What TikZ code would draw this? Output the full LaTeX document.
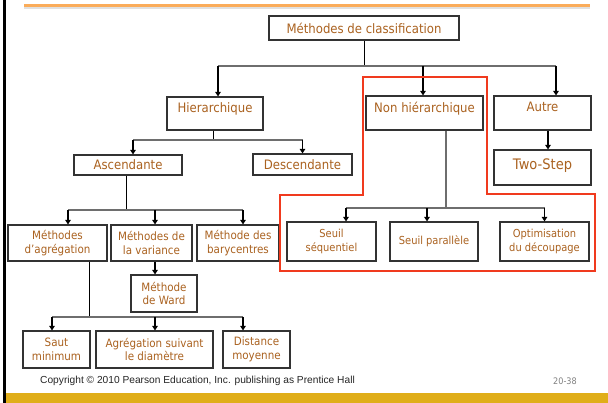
\documentclass[tikz,border=0pt]{standalone}
\usepackage{fontspec}
\setmainfont{DejaVu Sans}[FakeStretch=0.9]
\newfontfamily\footfont{Liberation Sans}
\usetikzlibrary{arrows.meta}

\definecolor{labelbrown}{RGB}{170,98,32}
\definecolor{ruleorange}{RGB}{250,172,90}
\definecolor{bargold}{RGB}{224,174,26}
\definecolor{framered}{RGB}{240,58,30}
\definecolor{busgray}{RGB}{110,110,110}

\tikzset{
  box/.style={draw=black!80, line width=1.1pt, text=labelbrown, inner sep=0pt,
    align=center, font=\fontsize{11.5}{13.5}\selectfont},
  bigbox/.style={box, font=\fontsize{13}{15}\selectfont},
  highlabel/.style={text depth=12pt},
  stem/.style={draw=black, line width=0.9pt},
  bus/.style={draw=busgray, line width=1.4pt},
  drop/.style={draw=black, line width=1.8pt,
    -{Triangle[length=4.5pt,width=5.5pt]}},
  redframe/.style={draw=framered, line width=2.5pt, line join=miter},
}

\begin{document}
\begin{tikzpicture}[x=1pt,y=-1pt]
\useasboundingbox (0,0) rectangle (608,403);
\fill[white] (0,0) rectangle (608,403);

% slide decorations
\draw[black, line width=3pt] (4.5,0) -- (4.5,403);
\draw[black!12, line width=2pt] (24,8.5) -- (590,8.5);
\draw[ruleorange, line width=3pt] (24,6) -- (590,6);
\fill[bargold] (6,393) rectangle (608,403);

% level 0 and 1
\node[bigbox, minimum width=190pt, minimum height=24pt] (top) at (364,28) {Méthodes de classification};
\node[bigbox, highlabel, minimum width=96pt, minimum height=33pt] (hier) at (215,113.5) {Hierarchique};
\node[bigbox, highlabel, minimum width=117pt, minimum height=34pt] (nonh) at (424.5,113) {Non hiérarchique};
\node[bigbox, highlabel, minimum width=97pt, minimum height=34pt] (autre) at (542.5,113) {Autre};
\node[box, text depth=7pt, font=\fontsize{14.5}{16}\selectfont, minimum width=97pt, minimum height=35pt] (two) at (542.5,167.5) {Two-Step};

% hierarchical branch
\node[bigbox, minimum width=108pt, minimum height=20pt] (asc) at (128,165) {Ascendante};
\node[bigbox, minimum width=99pt, minimum height=21pt] (desc) at (302.5,164.5) {Descendante};
\node[box, minimum width=99pt, minimum height=36pt] (agr) at (57.5,243) {Méthodes\\d’agrégation};
\node[box, minimum width=81pt, minimum height=36pt] (var) at (151.5,243) {Méthodes de\\la variance};
\node[box, minimum width=82pt, minimum height=36pt] (bary) at (238,243) {Méthode des\\barycentres};
\node[box, minimum width=66pt, minimum height=37pt] (ward) at (164,293.5) {Méthode\\de Ward};
\node[box, minimum width=67pt, minimum height=37pt] (saut) at (56.5,349.5) {Saut\\minimum};
\node[box, minimum width=117pt, minimum height=37pt] (diam) at (154.5,349.5) {Agrégation suivant\\le diamètre};
\node[box, minimum width=67pt, minimum height=37pt] (dist) at (256.5,349.5) {Distance\\moyenne};

% non-hierarchical branch
\node[box, font=\fontsize{11}{13.5}\selectfont, minimum width=89pt, minimum height=39pt] (sseq) at (331.5,241.5) {Seuil\\séquentiel};
\node[box, font=\fontsize{11}{13.5}\selectfont, minimum width=88pt, minimum height=39pt] (spar) at (434,241.5) {Seuil parallèle};
\node[box, font=\fontsize{11}{13.5}\selectfont, minimum width=89pt, minimum height=39pt] (optim) at (544.5,241.5) {Optimisation\\du découpage};

% bus levels
\coordinate (busA) at (0,66);
\coordinate (busB) at (0,140);
\coordinate (busC) at (0,210);
\coordinate (busD) at (0,317);
\coordinate (busE) at (0,208);

% top -> level 1
\draw[stem] (top.south) -- (top.south |- busA);
\draw[bus] ([xshift=3pt]hier.north |- busA) -- ([xshift=13.5pt]autre.north |- busA);
\draw[drop] ([xshift=3pt]hier.north |- busA) -- ([xshift=3pt]hier.north);
\draw[drop] ([xshift=-1.5pt]nonh.north |- busA) -- ([xshift=-1.5pt]nonh.north);
\draw[drop] ([xshift=13.5pt]autre.north |- busA) -- ([xshift=13.5pt]autre.north);
\draw[drop] ([xshift=5.5pt]autre.south) -- ([xshift=5.5pt]two.north);

% hierarchique -> ascendante / descendante
\draw[stem] ([xshift=-2pt]hier.south) -- ([xshift=-2pt]hier.south |- busB);
\draw[bus] ([xshift=5pt]asc.north |- busB) -- (desc.north |- busB);
\draw[drop] ([xshift=5pt]asc.north |- busB) -- ([xshift=5pt]asc.north);
\draw[drop] (desc.north |- busB) -- (desc.north);

% ascendante -> three methods
\draw[stem] ([xshift=-2pt]asc.south) -- ([xshift=-2pt]asc.south |- busC);
\draw[bus] ([xshift=10.5pt]agr.north |- busC) -- ([xshift=5pt]bary.north |- busC);
\draw[drop] ([xshift=10.5pt]agr.north |- busC) -- ([xshift=10.5pt]agr.north);
\draw[drop] ([xshift=3.5pt]var.north |- busC) -- ([xshift=3.5pt]var.north);
\draw[drop] ([xshift=5pt]bary.north |- busC) -- ([xshift=5pt]bary.north);
\draw[drop] ([xshift=3.5pt]var.south) -- ([xshift=-9pt]ward.north);

% agregation -> three linkages
\draw[stem] ([xshift=31.5pt]agr.south) -- ([xshift=31.5pt]agr.south |- busD);
\draw[bus] ([xshift=-4.5pt]saut.north |- busD) -- ([xshift=-13.5pt]dist.north |- busD);
\draw[drop] ([xshift=-4.5pt]saut.north |- busD) -- ([xshift=-4.5pt]saut.north);
\draw[drop] ([xshift=0.5pt]diam.north |- busD) -- ([xshift=0.5pt]diam.north);
\draw[drop] ([xshift=-13.5pt]dist.north |- busD) -- ([xshift=-13.5pt]dist.north);

% non hierarchique -> three methods
\draw[bus] ([xshift=21.5pt]nonh.south) -- ([xshift=21.5pt]nonh.south |- busE);
\draw[bus] ([xshift=14.5pt]sseq.north |- busE) -- (optim.north |- busE);
\draw[drop] ([xshift=14.5pt]sseq.north |- busE) -- ([xshift=14.5pt]sseq.north);
\draw[drop] ([xshift=-7pt]spar.north |- busE) -- ([xshift=-7pt]spar.north);
\draw[drop] (optim.north |- busE) -- (optim.north);

% highlight frame around the non-hierarchical group
\draw[redframe] (280,195) -- (363,195) -- (363,77) -- (487,77) -- (487,194)
  -- (595,194) -- (595,271) -- (280,271) -- cycle;

% footer
\node[anchor=west, inner sep=0pt, text=black!85, font=\footfont\fontsize{10.2}{12}\selectfont] (copy) at (40,381)
  {Copyright © 2010 Pearson Education, Inc. publishing as Prentice Hall};
\node[inner sep=0pt, text=black!50, font=\fontsize{9}{11}\selectfont] (pageno) at (565,381) {20-38};
\end{tikzpicture}
\end{document}
